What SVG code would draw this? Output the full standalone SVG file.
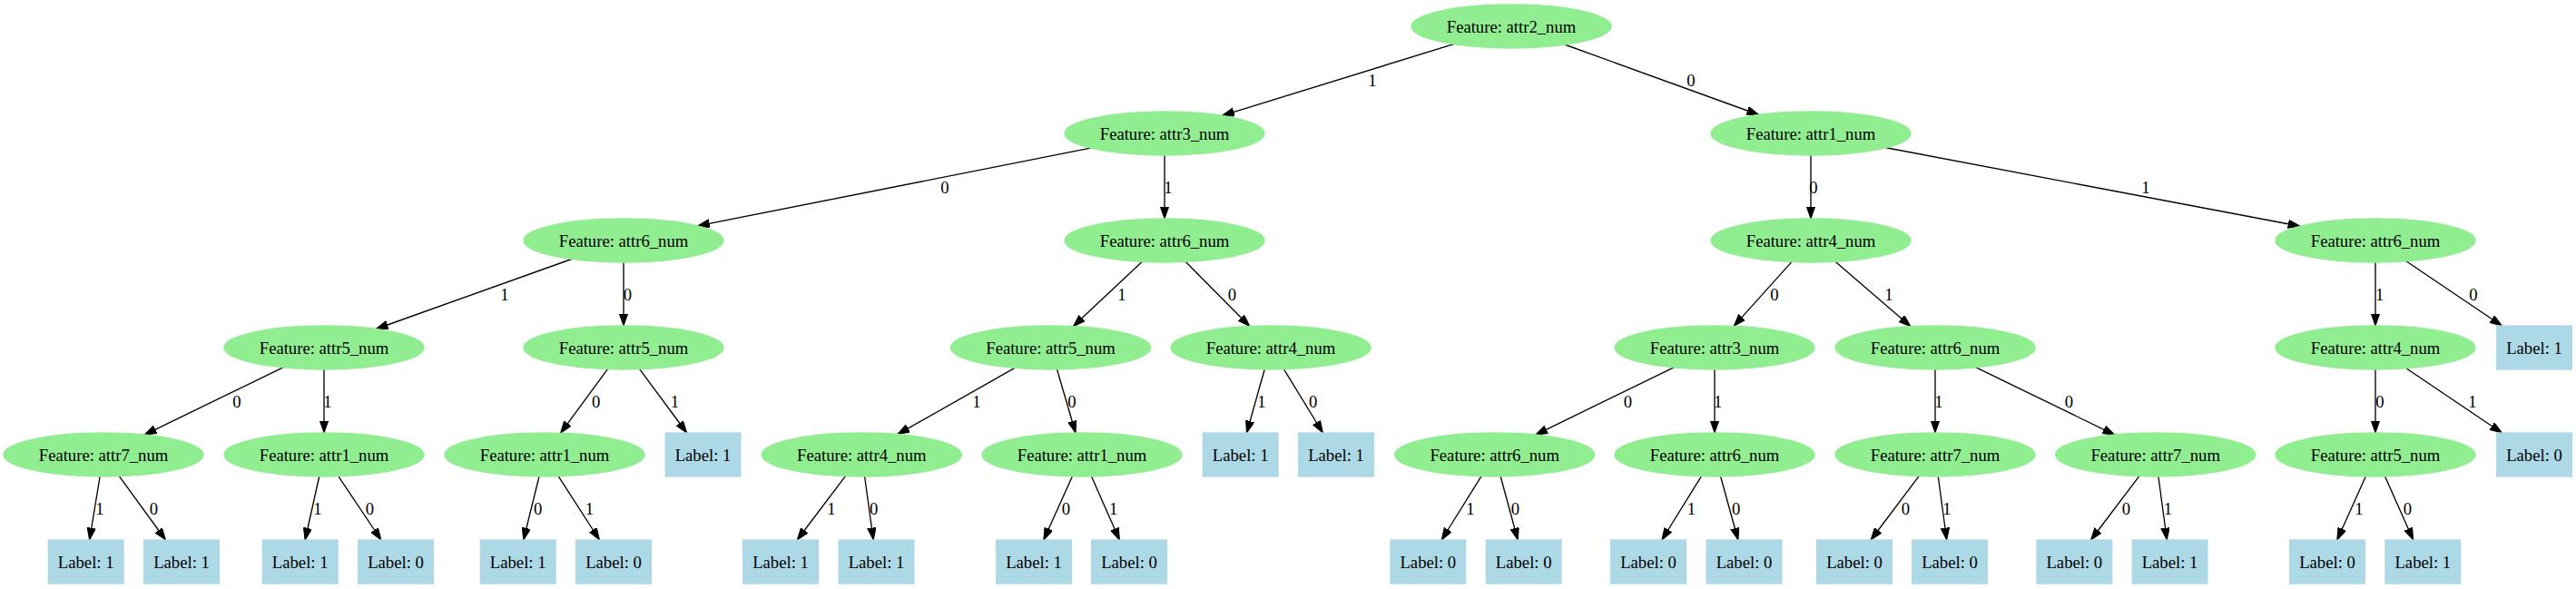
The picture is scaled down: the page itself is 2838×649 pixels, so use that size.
<svg xmlns="http://www.w3.org/2000/svg" width="2838" height="649" viewBox="0 0 2838 649">
<style>
.f ellipse{fill:#90ee90;stroke:#90ee90;stroke-width:1.33}
.b rect{fill:#add8e6;stroke:#add8e6;stroke-width:1.33}
text{font-family:"Liberation Serif","Times New Roman",serif;font-size:18.67px;fill:#000;text-anchor:middle}
#edges line{stroke:#000;stroke-width:1.33;marker-end:url(#ah)}
</style>
<defs>
<marker id="ah" markerUnits="userSpaceOnUse" markerWidth="15" markerHeight="11" refX="13.33" refY="4.67" orient="auto">
<path d="M0,0 L13.33,4.67 L0,9.33 z" fill="#000" stroke="#000" stroke-width="1"/>
</marker>
</defs>
<rect width="2838" height="649" fill="#fff"/>
<g id="edges">
<line x1="1601.5" y1="48.6" x2="1346.5" y2="127.4"/>
<line x1="1722.3" y1="48.5" x2="1937.7" y2="126.5"/>
<line x1="1201.5" y1="163.1" x2="768.5" y2="248.9"/>
<line x1="1283" y1="171" x2="1283" y2="241"/>
<line x1="629.7" y1="285.5" x2="414.3" y2="362.5"/>
<line x1="687" y1="289" x2="687" y2="359"/>
<line x1="311.9" y1="404.9" x2="159.1" y2="479.1"/>
<line x1="357" y1="407" x2="357" y2="477"/>
<line x1="110.1" y1="525" x2="98.6" y2="595"/>
<line x1="131.3" y1="524.7" x2="182.5" y2="595"/>
<line x1="351.7" y1="525" x2="336.1" y2="595"/>
<line x1="372.9" y1="524.8" x2="419.9" y2="595"/>
<line x1="669.5" y1="406.7" x2="617.5" y2="477.3"/>
<line x1="704.6" y1="406.7" x2="756.7" y2="477"/>
<line x1="594" y1="525" x2="576.7" y2="595"/>
<line x1="615.3" y1="524.8" x2="660.5" y2="595"/>
<line x1="1258.1" y1="288.4" x2="1182.4" y2="359.6"/>
<line x1="1306.3" y1="288.5" x2="1376.7" y2="359.5"/>
<line x1="1118" y1="405.4" x2="988.8" y2="478.6"/>
<line x1="1164.5" y1="407" x2="1185" y2="477"/>
<line x1="931.4" y1="524.7" x2="878.2" y2="595"/>
<line x1="952.6" y1="525" x2="962.2" y2="595"/>
<line x1="1181.3" y1="524.9" x2="1149.8" y2="595"/>
<line x1="1202.5" y1="524.9" x2="1233.4" y2="595"/>
<line x1="1393.2" y1="407" x2="1373.5" y2="477"/>
<line x1="1414.5" y1="406.8" x2="1457.4" y2="477"/>
<line x1="1995" y1="171" x2="1995" y2="241"/>
<line x1="2078" y1="162.75" x2="2534" y2="249.25"/>
<line x1="1973.8" y1="288.6" x2="1910.2" y2="359.4"/>
<line x1="2022" y1="288.3" x2="2105" y2="359.7"/>
<line x1="1844" y1="404.9" x2="1691.7" y2="479.1"/>
<line x1="1889" y1="407" x2="1889" y2="477"/>
<line x1="1631.9" y1="524.8" x2="1588.2" y2="595"/>
<line x1="1653.2" y1="525" x2="1672.2" y2="595"/>
<line x1="1874.3" y1="524.8" x2="1830.9" y2="595"/>
<line x1="1895.6" y1="525" x2="1914.9" y2="595"/>
<line x1="2132" y1="407" x2="2132" y2="477"/>
<line x1="2177" y1="404.9" x2="2329.7" y2="479.1"/>
<line x1="2114.1" y1="524.7" x2="2061.1" y2="595"/>
<line x1="2135.3" y1="525" x2="2144.7" y2="595"/>
<line x1="2356.8" y1="524.7" x2="2303.5" y2="595"/>
<line x1="2377.9" y1="525" x2="2387.3" y2="595"/>
<line x1="2617" y1="289" x2="2617" y2="359"/>
<line x1="2650.9" y1="287.8" x2="2756.4" y2="359"/>
<line x1="2617" y1="407" x2="2617" y2="477"/>
<line x1="2650.9" y1="405.8" x2="2756.4" y2="477"/>
<line x1="2606.3" y1="524.9" x2="2574.8" y2="595"/>
<line x1="2627.6" y1="524.9" x2="2658.7" y2="595"/>
<g id="edge-labels">
<text x="1512" y="95">1</text>
<text x="1863" y="95">0</text>
<text x="1041" y="213">0</text>
<text x="1287" y="213">1</text>
<text x="1998" y="213">0</text>
<text x="2364" y="213">1</text>
<text x="556" y="331">1</text>
<text x="691.5" y="331">0</text>
<text x="1236" y="331">1</text>
<text x="1357.5" y="331">0</text>
<text x="1955" y="331">0</text>
<text x="2081" y="331">1</text>
<text x="2621.7" y="331">1</text>
<text x="2725" y="331">0</text>
<text x="261" y="449">0</text>
<text x="361" y="449">1</text>
<text x="656.7" y="449">0</text>
<text x="743.3" y="449">1</text>
<text x="1076" y="449">1</text>
<text x="1181" y="449">0</text>
<text x="1390" y="449">1</text>
<text x="1446.7" y="449">0</text>
<text x="1793.3" y="449">0</text>
<text x="1892.7" y="449">1</text>
<text x="2136" y="449">1</text>
<text x="2279.3" y="449">0</text>
<text x="2622" y="449">0</text>
<text x="2724" y="449">1</text>
<text x="110" y="567">1</text>
<text x="169.3" y="567">0</text>
<text x="350" y="567">1</text>
<text x="407.3" y="567">0</text>
<text x="592.7" y="567">0</text>
<text x="649.3" y="567">1</text>
<text x="916" y="567">1</text>
<text x="962.7" y="567">0</text>
<text x="1174.3" y="567">0</text>
<text x="1226.7" y="567">1</text>
<text x="1620" y="567">1</text>
<text x="1669.3" y="567">0</text>
<text x="1863.3" y="567">1</text>
<text x="1912.7" y="567">0</text>
<text x="2099.3" y="567">0</text>
<text x="2145" y="567">1</text>
<text x="2342.3" y="567">0</text>
<text x="2388.3" y="567">1</text>
<text x="2599" y="567">1</text>
<text x="2652.3" y="567">0</text>
</g>
</g>
<g id="nR" class="f"><ellipse cx="1665" cy="29" rx="110" ry="24"/><text x="1665" y="35.5">Feature: attr2_num</text></g>
<g id="nA" class="f"><ellipse cx="1283" cy="147" rx="110" ry="24"/><text x="1283" y="153.5">Feature: attr3_num</text></g>
<g id="nN" class="f"><ellipse cx="1995" cy="147" rx="110" ry="24"/><text x="1995" y="153.5">Feature: attr1_num</text></g>
<g id="nB" class="f"><ellipse cx="687" cy="265" rx="110" ry="24"/><text x="687" y="271.5">Feature: attr6_num</text></g>
<g id="nH" class="f"><ellipse cx="1283" cy="265" rx="110" ry="24"/><text x="1283" y="271.5">Feature: attr6_num</text></g>
<g id="nO" class="f"><ellipse cx="1995" cy="265" rx="110" ry="24"/><text x="1995" y="271.5">Feature: attr4_num</text></g>
<g id="nW" class="f"><ellipse cx="2617" cy="265" rx="110" ry="24"/><text x="2617" y="271.5">Feature: attr6_num</text></g>
<g id="nC" class="f"><ellipse cx="357" cy="383" rx="110" ry="24"/><text x="357" y="389.5">Feature: attr5_num</text></g>
<g id="nF" class="f"><ellipse cx="687" cy="383" rx="110" ry="24"/><text x="687" y="389.5">Feature: attr5_num</text></g>
<g id="nI" class="f"><ellipse cx="1157.5" cy="383" rx="110" ry="24"/><text x="1157.5" y="389.5">Feature: attr5_num</text></g>
<g id="nM" class="f"><ellipse cx="1400" cy="383" rx="110" ry="24"/><text x="1400" y="389.5">Feature: attr4_num</text></g>
<g id="nP" class="f"><ellipse cx="1889" cy="383" rx="110" ry="24"/><text x="1889" y="389.5">Feature: attr3_num</text></g>
<g id="nT" class="f"><ellipse cx="2132" cy="383" rx="110" ry="24"/><text x="2132" y="389.5">Feature: attr6_num</text></g>
<g id="nX" class="f"><ellipse cx="2617" cy="383" rx="110" ry="24"/><text x="2617" y="389.5">Feature: attr4_num</text></g>
<g id="lW0" class="b"><rect x="2750.67" y="359" width="82.67" height="48"/><text x="2792" y="389.5">Label: 1</text></g>
<g id="nD" class="f"><ellipse cx="114" cy="501" rx="110" ry="24"/><text x="114" y="507.5">Feature: attr7_num</text></g>
<g id="nE" class="f"><ellipse cx="357" cy="501" rx="110" ry="24"/><text x="357" y="507.5">Feature: attr1_num</text></g>
<g id="nG" class="f"><ellipse cx="600" cy="501" rx="110" ry="24"/><text x="600" y="507.5">Feature: attr1_num</text></g>
<g id="lF1" class="b"><rect x="733.17" y="477" width="82.67" height="48"/><text x="774.5" y="507.5">Label: 1</text></g>
<g id="nJ" class="f"><ellipse cx="949.3" cy="501" rx="110" ry="24"/><text x="949.3" y="507.5">Feature: attr4_num</text></g>
<g id="nK" class="f"><ellipse cx="1192" cy="501" rx="110" ry="24"/><text x="1192" y="507.5">Feature: attr1_num</text></g>
<g id="lM1" class="b"><rect x="1325.37" y="477" width="82.67" height="48"/><text x="1366.7" y="507.5">Label: 1</text></g>
<g id="lM0" class="b"><rect x="1430.67" y="477" width="82.67" height="48"/><text x="1472" y="507.5">Label: 1</text></g>
<g id="nQ" class="f"><ellipse cx="1646.7" cy="501" rx="110" ry="24"/><text x="1646.7" y="507.5">Feature: attr6_num</text></g>
<g id="nS" class="f"><ellipse cx="1889" cy="501" rx="110" ry="24"/><text x="1889" y="507.5">Feature: attr6_num</text></g>
<g id="nU" class="f"><ellipse cx="2132" cy="501" rx="110" ry="24"/><text x="2132" y="507.5">Feature: attr7_num</text></g>
<g id="nV" class="f"><ellipse cx="2374.7" cy="501" rx="110" ry="24"/><text x="2374.7" y="507.5">Feature: attr7_num</text></g>
<g id="nY" class="f"><ellipse cx="2617" cy="501" rx="110" ry="24"/><text x="2617" y="507.5">Feature: attr5_num</text></g>
<g id="lX1" class="b"><rect x="2750.67" y="477" width="82.67" height="48"/><text x="2792" y="507.5">Label: 0</text></g>
<g id="lD1" class="b"><rect x="53.37" y="595" width="82.67" height="48"/><text x="94.7" y="625.5">Label: 1</text></g>
<g id="lD0" class="b"><rect x="158.67" y="595" width="82.67" height="48"/><text x="200" y="625.5">Label: 1</text></g>
<g id="lE1" class="b"><rect x="289.37" y="595" width="82.67" height="48"/><text x="330.7" y="625.5">Label: 1</text></g>
<g id="lE0" class="b"><rect x="394.67" y="595" width="82.67" height="48"/><text x="436" y="625.5">Label: 0</text></g>
<g id="lG0" class="b"><rect x="529.37" y="595" width="82.67" height="48"/><text x="570.7" y="625.5">Label: 1</text></g>
<g id="lG1" class="b"><rect x="634.67" y="595" width="82.67" height="48"/><text x="676" y="625.5">Label: 0</text></g>
<g id="lJ1" class="b"><rect x="818.67" y="595" width="82.67" height="48"/><text x="860" y="625.5">Label: 1</text></g>
<g id="lJ0" class="b"><rect x="924.17" y="595" width="82.67" height="48"/><text x="965.5" y="625.5">Label: 1</text></g>
<g id="lK0" class="b"><rect x="1097.67" y="595" width="82.67" height="48"/><text x="1139" y="625.5">Label: 1</text></g>
<g id="lK1" class="b"><rect x="1202.67" y="595" width="82.67" height="48"/><text x="1244" y="625.5">Label: 0</text></g>
<g id="lQ1" class="b"><rect x="1531.97" y="595" width="82.67" height="48"/><text x="1573.3" y="625.5">Label: 0</text></g>
<g id="lQ0" class="b"><rect x="1637.37" y="595" width="82.67" height="48"/><text x="1678.7" y="625.5">Label: 0</text></g>
<g id="lS1" class="b"><rect x="1774.67" y="595" width="82.67" height="48"/><text x="1816" y="625.5">Label: 0</text></g>
<g id="lS0" class="b"><rect x="1880.17" y="595" width="82.67" height="48"/><text x="1921.5" y="625.5">Label: 0</text></g>
<g id="lU0" class="b"><rect x="2001.67" y="595" width="82.67" height="48"/><text x="2043" y="625.5">Label: 0</text></g>
<g id="lU1" class="b"><rect x="2106.67" y="595" width="82.67" height="48"/><text x="2148" y="625.5">Label: 0</text></g>
<g id="lV0" class="b"><rect x="2243.97" y="595" width="82.67" height="48"/><text x="2285.3" y="625.5">Label: 0</text></g>
<g id="lV1" class="b"><rect x="2349.17" y="595" width="82.67" height="48"/><text x="2390.5" y="625.5">Label: 1</text></g>
<g id="lY1" class="b"><rect x="2522.67" y="595" width="82.67" height="48"/><text x="2564" y="625.5">Label: 0</text></g>
<g id="lY0" class="b"><rect x="2627.97" y="595" width="82.67" height="48"/><text x="2669.3" y="625.5">Label: 1</text></g>
</svg>
